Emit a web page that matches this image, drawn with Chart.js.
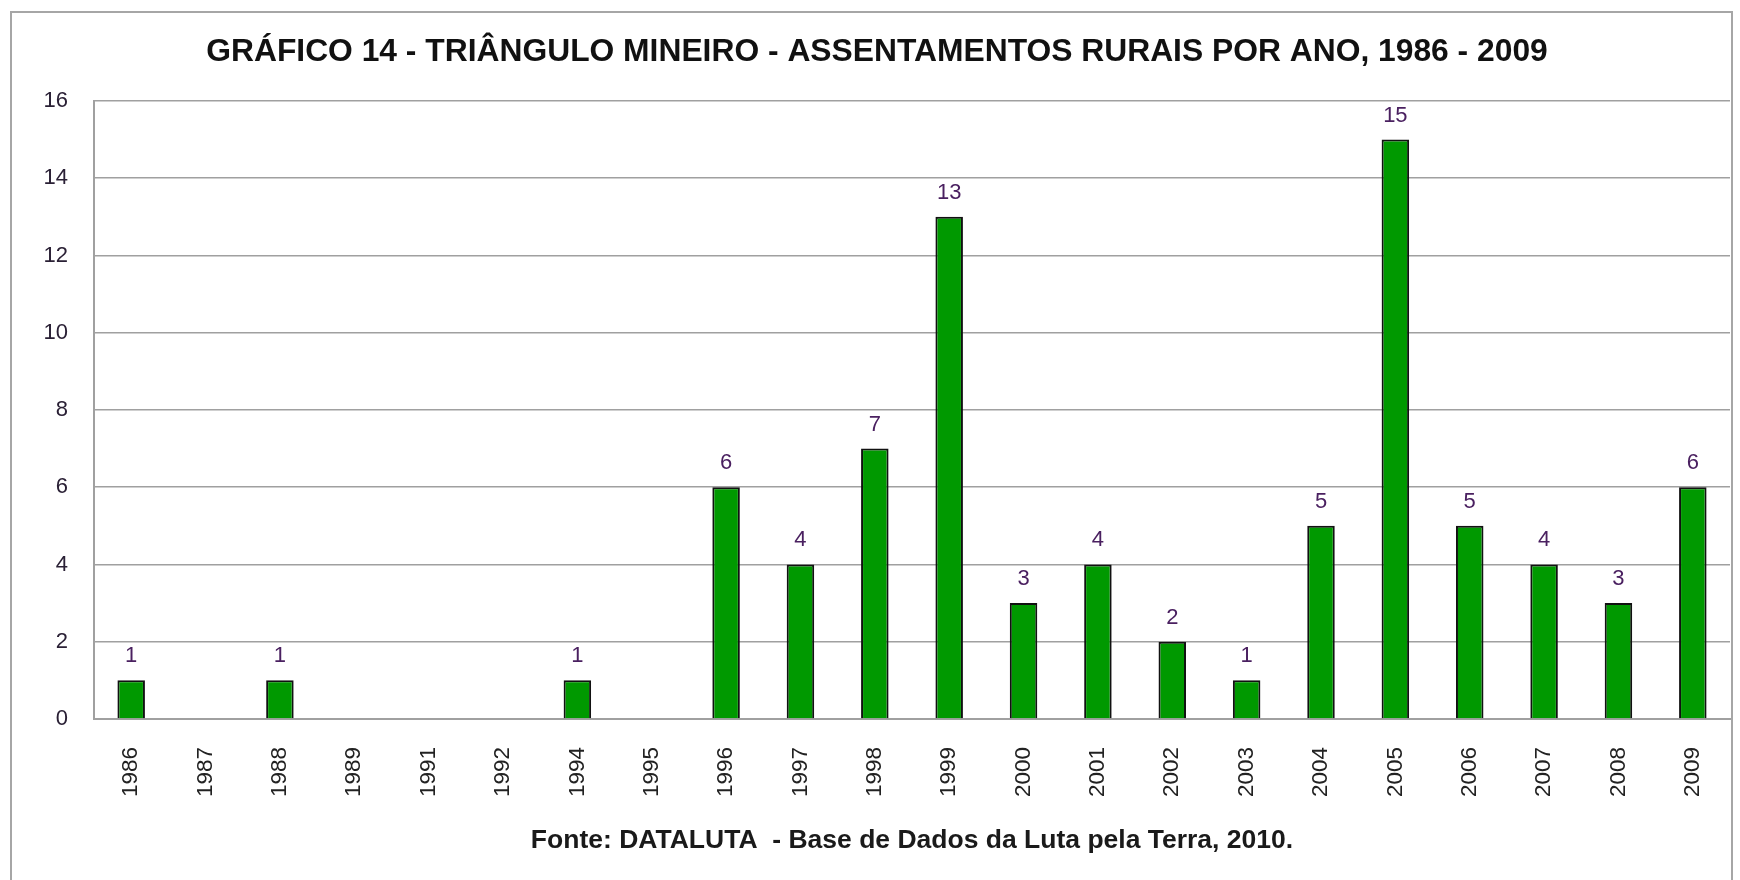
<!DOCTYPE html>
<html>
<head>
<meta charset="utf-8">
<script src="https://cdn.jsdelivr.net/npm/chart.js@4/dist/chart.umd.min.js"></script>
<style>
  html, body { margin: 0; padding: 0; background: #fff; }
  #wrap { width: 1740px; height: 880px; position: relative; }
</style>
</head>
<body>
<div id="wrap"><canvas id="assentamentosChart"></canvas></div>
<script>
const years = ['1986', '1987', '1988', '1989', '1991', '1992', '1994', '1995', '1996', '1997', '1998',
  '1999', '2000', '2001', '2002', '2003', '2004', '2005', '2006', '2007', '2008', '2009'];
const assentamentos = [1, 0, 1, 0, 0, 0, 1, 0, 6, 4, 7, 13, 3, 4, 2, 1, 5, 15, 5, 4, 3, 6];
const yTicks = [0, 2, 4, 6, 8, 10, 12, 14, 16];

const titleText = 'GRÁFICO 14 - TRIÂNGULO MINEIRO - ASSENTAMENTOS RURAIS POR ANO, 1986 - 2009';
const sourceText = 'Fonte: DATALUTA  - Base de Dados da Luta pela Terra, 2010.';

const fontFamily = '"Liberation Sans", Arial, sans-serif';

// white page + grey frame around the whole chart
const framePlugin = {
  id: 'frame',
  beforeDraw(chart) {
    const ctx = chart.ctx;
    ctx.save();
    ctx.fillStyle = '#ffffff';
    ctx.fillRect(0, 0, chart.width, chart.height);
    ctx.strokeStyle = '#a6a6a6';
    ctx.lineWidth = 2;
    ctx.strokeRect(11, 12, chart.width - 19, chart.height + 20);
    ctx.restore();
  }
};

// value above each bar
const valueLabels = {
  id: 'valueLabels',
  afterDatasetsDraw(chart) {
    const ctx = chart.ctx;
    const meta = chart.getDatasetMeta(0);
    ctx.save();
    ctx.font = '22px ' + fontFamily;
    ctx.fillStyle = '#4a2060';
    ctx.textAlign = 'center';
    ctx.textBaseline = 'alphabetic';
    meta.data.forEach((bar, i) => {
      const v = assentamentos[i];
      if (!v) return;
      ctx.fillText(String(v), bar.x, bar.y - 18);
    });
    ctx.restore();
  }
};

// source line under the axis, centred on the plot area
const sourceLine = {
  id: 'sourceLine',
  afterDraw(chart) {
    const ctx = chart.ctx;
    const area = chart.chartArea;
    ctx.save();
    ctx.font = 'bold 26.5px ' + fontFamily;
    ctx.fillStyle = '#1a1a1a';
    ctx.textAlign = 'center';
    ctx.textBaseline = 'middle';
    ctx.fillText(sourceText, (area.left + area.right) / 2, 841);
    ctx.restore();
  }
};

new Chart(document.getElementById('assentamentosChart'), {
  type: 'bar',
  data: {
    labels: years,
    datasets: [{
      data: assentamentos,
      backgroundColor: '#009900',
      borderColor: '#111111',
      borderWidth: 2,
      borderSkipped: 'bottom',
      barPercentage: 0.37,
      categoryPercentage: 1.0
    }]
  },
  options: {
    responsive: true,
    maintainAspectRatio: false,
    animation: false,
    layout: {
      padding: { left: 24, right: 10, top: 0, bottom: 0 }
    },
    plugins: {
      legend: { display: false },
      tooltip: { enabled: false },
      title: {
        display: true,
        text: titleText,
        color: '#111111',
        font: { family: fontFamily, size: 31.8, weight: 'bold', lineHeight: 1.2 },
        padding: { top: 33, bottom: 29.8 }
      }
    },
    scales: {
      x: {
        grid: { display: false, drawTicks: false },
        border: { display: true, color: '#a0a0a0', width: 2 },
        ticks: {
          autoSkip: false,
          minRotation: 90,
          maxRotation: 90,
          padding: 28,
          color: '#222222',
          font: { family: fontFamily, size: 22.5 }
        },
        afterFit(scale) {
          scale.height = 161;
          scale.paddingLeft = 0;
          scale.paddingRight = 0;
        }
      },
      y: {
        min: 0,
        max: 16,
        afterBuildTicks(scale) {
          scale.ticks = yTicks.map(v => ({ value: v }));
        },
        grid: {
          color: '#a0a0a0',
          lineWidth: 1.5,
          drawTicks: false
        },
        border: { display: true, color: '#a0a0a0', width: 2 },
        ticks: {
          padding: 26,
          color: '#2a2035',
          font: { family: fontFamily, size: 22 }
        },
        afterFit(scale) {
          scale.width = 70;
          scale.paddingTop = 0;
          scale.paddingBottom = 0;
        }
      }
    }
  },
  plugins: [framePlugin, valueLabels, sourceLine]
});
</script>
</body>
</html>
